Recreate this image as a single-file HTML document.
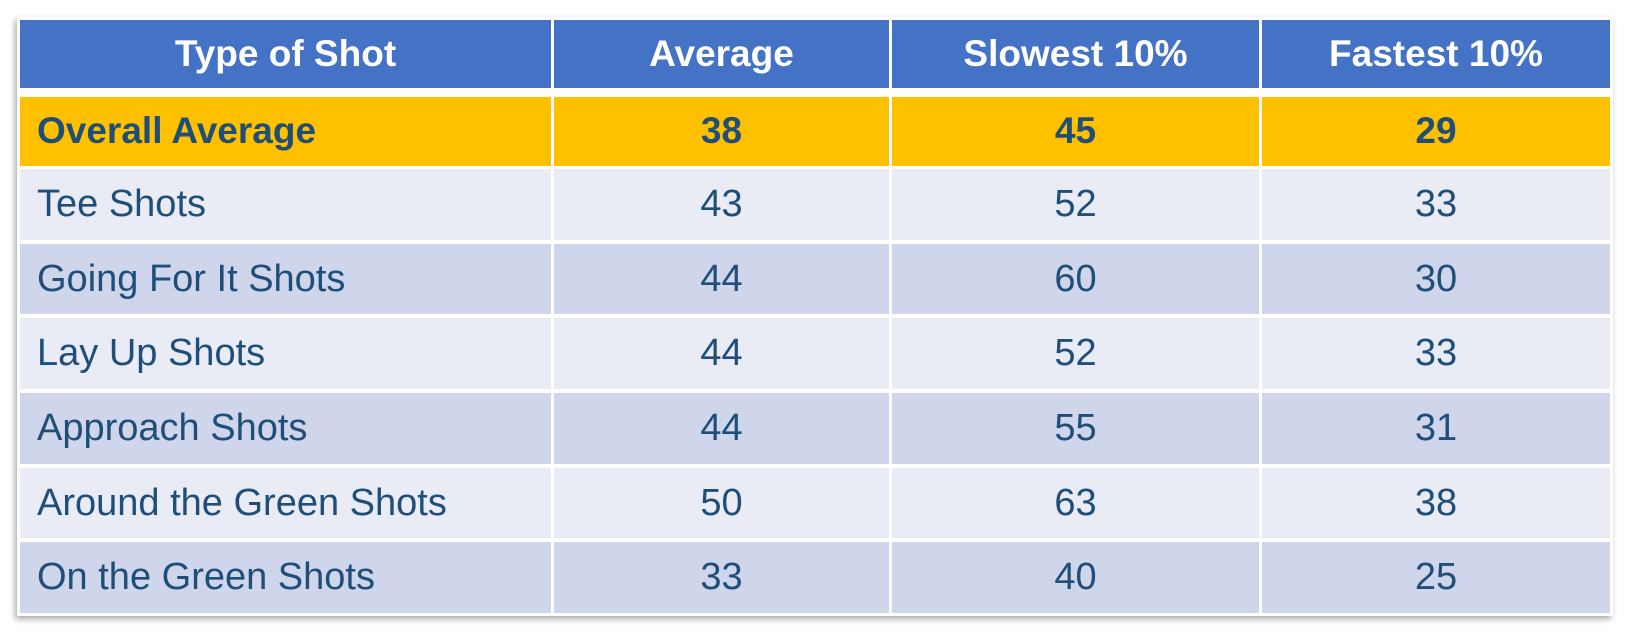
<!DOCTYPE html>
<html><head><meta charset="utf-8"><style>
html,body{margin:0;padding:0;background:#fff;width:1626px;height:634px;overflow:hidden}
.wrap{position:absolute;left:17px;top:17px;width:1596px;height:599px;background:#fff;box-shadow:-2px 3px 6px rgba(0,0,0,0.35)}
.c{position:absolute;font-family:"Liberation Sans",sans-serif;color:#1F4E79;font-size:38px;display:flex;align-items:center;box-sizing:border-box;padding-top:4px}
.h{background:#4472C4;color:#fff;font-weight:bold;justify-content:center;font-size:37px;padding-top:3px}
.g{background:#FFC000;font-weight:bold;font-size:37px;padding-top:2px}
.l{background:#E9EBF5}
.d{background:#CFD5EA}
.n{justify-content:center}
.t{padding-left:17px}
</style></head><body>
<div class="wrap"></div>
<div id="t"></div>
<script>
const cols=[[20,551],[554,889],[892,1259],[1262,1610]];
const rows=[[20,88,'h'],[97,166,'g'],[169,240,'l'],[244,314,'d'],[318,389,'l'],[393,464,'d'],[468,538,'l'],[542,613,'d']];
const data=[["Type of Shot","Average","Slowest 10%","Fastest 10%"],
["Overall Average","38","45","29"],
["Tee Shots","43","52","33"],
["Going For It Shots","44","60","30"],
["Lay Up Shots","44","52","33"],
["Approach Shots","44","55","31"],
["Around the Green Shots","50","63","38"],
["On the Green Shots","33","40","25"]];
let h='';
rows.forEach((r,i)=>{cols.forEach((c,j)=>{
 let cls='c '+r[2]+(i==0?'':(j==0?' t':' n'));
 h+=`<div class="${cls}" style="left:${c[0]}px;top:${r[0]}px;width:${c[1]-c[0]}px;height:${r[1]-r[0]-4}px">${data[i][j]}</div>`;
 h+=`<div style="position:absolute;left:${c[0]}px;top:${r[1]-4}px;width:${c[1]-c[0]}px;height:4px;background:${{h:'#4472C4',g:'#FFC000',l:'#E9EBF5',d:'#CFD5EA'}[r[2]]}"></div>`;
});});
document.getElementById('t').innerHTML=h;
</script>
</body></html>
